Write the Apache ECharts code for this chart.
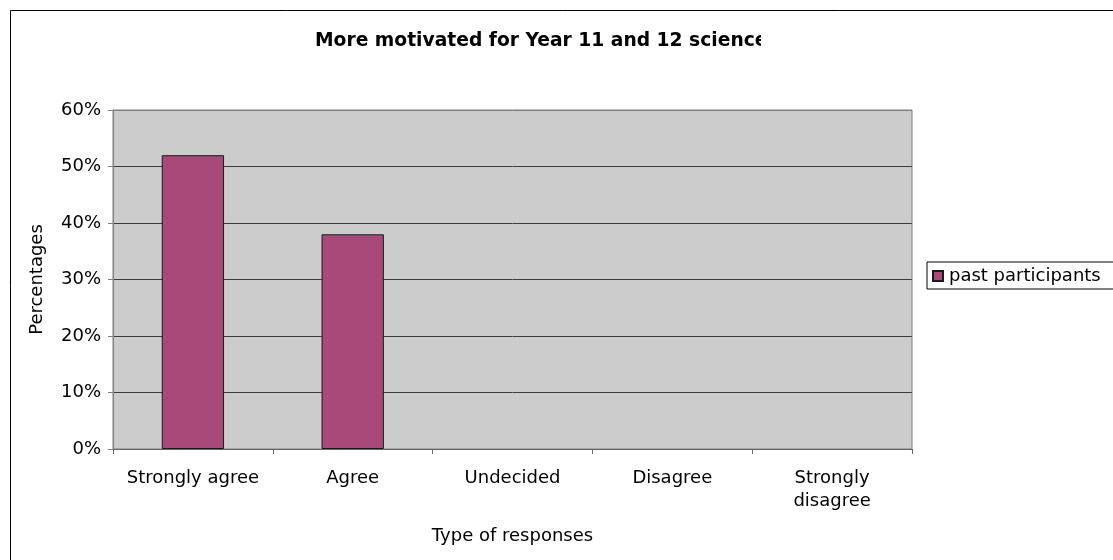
<!DOCTYPE html>
<html>
<head>
<meta charset="utf-8">
<style>
  html, body { margin: 0; padding: 0; background: #fff; }
  #chart { width: 1113px; height: 560px; }
</style>
<script src="https://cdn.jsdelivr.net/npm/echarts@6/dist/echarts.min.js"></script>
</head>
<body>
<div id="chart"></div>
<script>
// Survey responses: share of past participants more motivated for senior science
const categories = ['Strongly agree', 'Agree', 'Undecided', 'Disagree', 'Strongly disagree'];
const pastParticipants = [52, 38, 0, 0, 0];
const seriesName = 'past participants';
const titleText = 'More motivated for Year 11 and 12 science';
const yTicks = [0, 10, 20, 30, 40, 50, 60];

const FONT = 'DejaVu Sans';
const chart = echarts.init(document.getElementById('chart'), null, { renderer: 'canvas' });

// long category names go on two lines
function wrapLabel(v) {
  if (v.length <= 15) return v;
  const i = v.lastIndexOf(' ');
  return i > 0 ? v.slice(0, i) + '\n' + v.slice(i + 1) : v;
}

// empty categories get no outline
const barData = pastParticipants.map(v =>
  v > 0 ? v : { value: v, itemStyle: { borderWidth: 0 } }
);

chart.setOption({
  backgroundColor: '#ffffff',
  animation: false,
  textStyle: { fontFamily: FONT, color: '#000' },
  title: {
    text: titleText,
    left: 315,
    top: 32,
    padding: 0,
    textStyle: { fontFamily: FONT, fontSize: 18.7, fontWeight: 'bold', color: '#000' }
  },
  graphic: [
    {
      // title box ends here, cutting the last letter
      type: 'rect',
      z: 100,
      shape: { x: 761, y: 26, width: 60, height: 34 },
      style: { fill: '#ffffff' }
    },
    {
      type: 'rect',
      z: 101,
      shape: { x: 10.5, y: 10.5, width: 1300, height: 700 },
      style: { fill: 'none', stroke: '#000', lineWidth: 1 }
    }
  ],
  legend: {
    orient: 'vertical',
    left: 927,
    top: 262,
    padding: [5, 30, 4, 5],
    borderColor: '#000',
    borderWidth: 1,
    backgroundColor: '#fff',
    icon: 'rect',
    itemWidth: 10,
    itemHeight: 10,
    itemGap: 5,
    textStyle: { fontFamily: FONT, fontSize: 18, color: '#000', padding: [0, 0, 0, 1] },
    data: [seriesName]
  },
  grid: {
    left: 113,
    top: 110,
    right: 201,
    bottom: 111,
    show: true,
    backgroundColor: '#cccccc',
    borderColor: '#808080',
    borderWidth: 1
  },
  xAxis: {
    type: 'category',
    data: categories,
    boundaryGap: true,
    name: 'Type of responses',
    nameLocation: 'middle',
    nameGap: 78,
    nameTextStyle: { fontFamily: FONT, fontSize: 18, color: '#000' },
    axisLine: { lineStyle: { color: '#666', width: 1 } },
    axisTick: { show: true, length: 5, lineStyle: { color: '#666' } },
    axisLabel: {
      interval: 0,
      margin: 18,
      fontFamily: FONT,
      fontSize: 18,
      color: '#000',
      lineHeight: 23,
      align: 'center',
      formatter: wrapLabel
    },
    splitLine: { show: false }
  },
  yAxis: {
    type: 'value',
    min: yTicks[0],
    max: yTicks[yTicks.length - 1],
    interval: yTicks[1] - yTicks[0],
    name: 'Percentages',
    nameLocation: 'middle',
    nameGap: 67,
    nameTextStyle: { fontFamily: FONT, fontSize: 18, color: '#000' },
    axisLine: { show: true, lineStyle: { color: '#808080', width: 1 } },
    axisTick: { show: true, length: 5, lineStyle: { color: '#808080' } },
    axisLabel: {
      margin: 12,
      fontFamily: FONT,
      fontSize: 18,
      color: '#000',
      formatter: '{value}%'
    },
    splitLine: {
      show: true,
      lineStyle: {
        color: ['#3c3c3c', '#3c3c3c', '#3c3c3c', '#3c3c3c', '#3c3c3c', '#3c3c3c', '#808080'],
        width: 1
      }
    }
  },
  series: [
    {
      name: seriesName,
      type: 'bar',
      data: barData,
      barWidth: '39%',
      itemStyle: { color: '#a9497a', borderColor: '#1a1a1a', borderWidth: 1 }
    }
  ]
});
</script>
</body>
</html>
